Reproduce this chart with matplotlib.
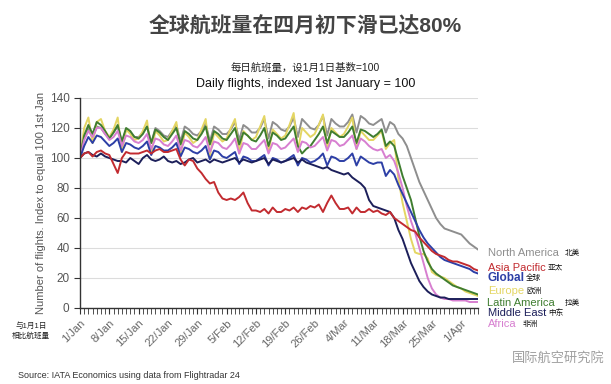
import numpy as np
import matplotlib
matplotlib.use("Agg")
import matplotlib.pyplot as plt
from matplotlib.ticker import MultipleLocator

plt.rcParams['font.family'] = ['Liberation Sans', 'Noto Sans CJK SC', 'DejaVu Sans']

# daily flights, index 1 Jan = 100 (1 Jan .. 5 Apr 2020, one row per week)
north_america = [
    100, 114, 120, 113, 121, 120, 116,
    113, 117, 121, 110, 119, 117, 114,
    114, 117, 121, 110, 120, 118, 115,
    114, 118, 122, 111, 121, 119, 116,
    115, 118, 123, 111, 121, 119, 116,
    116, 119, 124, 112, 122, 120, 117,
    117, 120, 126, 113, 124, 122, 119,
    118, 121, 127, 114, 126, 123, 120,
    119, 122, 128, 115, 126, 123, 121,
    121, 124, 129, 117, 128, 126, 123,
    122, 124, 126, 117, 124, 122, 116,
    113, 108, 100, 92, 84, 78, 72,
    66, 60, 56, 53, 52, 51, 50,
    49, 46, 43, 41, 39]
asia_pacific = [
    100, 103, 104, 101, 104, 105, 103,
    102, 96, 90, 100, 104, 103, 103,
    103, 104, 105, 103, 105, 106, 104,
    104, 105, 106, 99, 95, 99, 98,
    93, 90, 86, 83, 84, 77, 73,
    72, 73, 72, 74, 77, 70, 65,
    65, 64, 66, 63, 67, 64, 64,
    66, 65, 67, 64, 67, 66, 68,
    67, 69, 64, 70, 75, 70, 66,
    66, 67, 63, 67, 64, 64, 66,
    64, 65, 63, 62, 64, 60, 58,
    56, 54, 52, 51, 47, 44, 41,
    38, 36, 35, 34, 32, 31, 31,
    30, 29, 28, 26, 25]
global_ = [
    100, 108, 114, 110, 115, 114, 111,
    108, 110, 113, 104, 110, 109, 107,
    106, 108, 111, 102, 108, 107, 105,
    105, 107, 110, 101, 107, 106, 104,
    103, 105, 108, 99, 105, 104, 101,
    100, 102, 104, 96, 101, 100, 98,
    98, 100, 102, 95, 100, 99, 97,
    98, 100, 102, 95, 100, 99, 97,
    98, 100, 103, 95, 101, 100, 98,
    98, 100, 103, 95, 101, 99, 97,
    96, 97, 97, 88, 92, 89, 82,
    76, 70, 64, 58, 52, 47, 43,
    40, 37, 34, 32, 31, 30, 29,
    28, 27, 26, 24, 23]
europe = [
    100, 120, 127, 110, 124, 126, 118,
    114, 119, 127, 104, 119, 116, 112,
    113, 118, 125, 103, 118, 115, 111,
    112, 118, 124, 102, 117, 114, 110,
    112, 119, 126, 101, 117, 114, 111,
    113, 120, 126, 103, 118, 115, 112,
    114, 121, 128, 104, 119, 116, 113,
    115, 122, 130, 105, 120, 117, 114,
    116, 122, 129, 106, 120, 117, 114,
    116, 121, 127, 106, 118, 115, 112,
    112, 115, 118, 106, 110, 112, 86,
    70, 58, 46, 37, 36, 36, 33,
    24, 22, 21, 20, 18, 16, 14,
    13, 11, 10, 9, 8]
latin_america = [
    100, 115, 122, 116, 124, 122, 118,
    113, 117, 122, 111, 120, 118, 114,
    113, 116, 121, 110, 119, 117, 114,
    112, 116, 120, 109, 118, 116, 113,
    112, 116, 121, 109, 118, 116, 113,
    112, 116, 120, 109, 117, 115, 112,
    111, 115, 120, 108, 117, 115, 112,
    113, 117, 121, 108, 103, 106, 108,
    112, 116, 121, 110, 118, 116, 114,
    114, 117, 121, 110, 119, 118, 116,
    114, 116, 119, 108, 111, 108, 98,
    88, 80, 72, 60, 48, 38, 31,
    26, 23, 21, 19, 17, 15, 14,
    13, 12, 11, 10, 9]
middle_east = [
    100, 103, 104, 102, 101, 103, 101,
    100, 99, 98, 98, 97, 100, 98,
    96, 100, 102, 99, 98, 99, 101,
    98, 97, 98, 96, 97, 99, 100,
    97, 98, 99, 97, 99, 98, 97,
    98, 99, 100, 97, 99, 98, 97,
    98, 99, 100, 96, 99, 98, 97,
    98, 99, 100, 97, 99, 97, 96,
    95, 94, 93, 94, 92, 91, 90,
    89, 90, 87, 85, 83, 80, 72,
    68, 67, 66, 65, 64, 60, 52,
    46, 38, 30, 24, 18, 14, 11,
    9, 8, 7, 7, 6, 6, 6,
    6, 6, 6, 6, 6]
africa = [
    100, 112, 118, 114, 120, 120, 116,
    112, 114, 118, 108, 115, 114, 111,
    110, 112, 116, 106, 113, 112, 109,
    108, 111, 115, 105, 112, 111, 108,
    107, 110, 114, 104, 111, 110, 107,
    106, 109, 113, 103, 110, 109, 106,
    106, 109, 112, 103, 110, 109, 106,
    107, 110, 113, 104, 111, 110, 107,
    108, 111, 114, 105, 112, 111, 108,
    109, 112, 115, 106, 113, 111, 108,
    106, 105, 106, 100, 102, 98, 90,
    80, 68, 58, 50, 40, 30, 20,
    13, 9, 7, 6, 6, 5, 5,
    5, 5, 4, 4, 4]

tick_labels = ['1/Jan', '8/Jan', '15/Jan', '22/Jan', '29/Jan', '5/Feb', '12/Feb',
               '19/Feb', '26/Feb', '4/Mar', '11/Mar', '18/Mar', '25/Mar', '1/Apr']

series = [
    ('North America', '北美', north_america, '#8e8e8e'),
    ('Europe', '欧洲', europe, '#e4d663'),
    ('Latin America', '拉美', latin_america, '#3f7d30'),
    ('Africa', '非洲', africa, '#d77fd0'),
    ('Global', '全球', global_, '#2d3fa6'),
    ('Middle East', '中东', middle_east, '#1c1f5a'),
    ('Asia Pacific', '亚太', asia_pacific, '#c22b30'),
]

fig = plt.figure(figsize=(6.11, 3.84), dpi=100)
ax = fig.add_axes([80 / 611, 1 - 308 / 384, 398 / 611, 210 / 384])

days = np.arange(len(global_))
for name, cn, vals, col in series:
    ax.plot(days, vals, color=col, lw=1.4, solid_joinstyle='round')

ax.set_xlim(0, len(global_) - 1)
ax.set_ylim(0, 140)
ax.set_yticks(range(0, 141, 20))
ax.grid(axis='y', color='#dcdcdc', lw=0.8)
ax.set_axisbelow(True)
for s in ['top', 'right']:
    ax.spines[s].set_visible(False)
for s in ['left', 'bottom']:
    ax.spines[s].set_color('#333333')
    ax.spines[s].set_linewidth(1.0)

ax.set_xticks(np.arange(0, len(global_), 7))
ax.set_xticklabels(tick_labels, rotation=45, ha='right', rotation_mode='anchor')
ax.xaxis.set_minor_locator(MultipleLocator(1))
ax.tick_params(axis='x', which='both', length=4, color='#333333', labelsize=8,
               labelcolor='#666666', pad=3)
ax.tick_params(axis='y', length=4, color='#333333', labelsize=8.5, labelcolor='#555555')
ax.set_ylabel('Number of flights. Index to equal 100 1st Jan', fontsize=8,
              color='#555555', labelpad=3)

# titles
fig.text(0.5, 1 - 26 / 384, '全球航班量在四月初下滑已达80%', ha='center', va='center',
         fontsize=15, fontweight='bold', color='#444444')
fig.text(0.5, 1 - 68 / 384, '每日航班量，设1月1日基数=100', ha='center', va='center',
         fontsize=7.5, color='#222222')
fig.text(0.5, 1 - 84 / 384, 'Daily flights, indexed 1st January = 100', ha='center',
         va='center', fontsize=9, color='#111111')

# right-hand labels
label_pos = {
    'North America': (488, 253, 565),
    'Asia Pacific': (488, 268, 548),
    'Global': (488, 278, 526),
    'Europe': (488, 291, 526),
    'Latin America': (487, 303, 565),
    'Middle East': (488, 313, 548),
    'Africa': (488, 324, 523),
}
for name, cn, vals, col in series:
    x, y, xc = label_pos[name]
    bold = name == 'Global'
    fig.text(x / 611, 1 - y / 384, name, color=col, fontsize=8.5 if bold else 8,
             fontweight='bold' if bold else 'normal', va='center', ha='left')
    fig.text(xc / 611, 1 - y / 384, cn, color='#111111', fontsize=5.5,
             va='center', ha='left')

fig.text(31 / 611, 1 - 331 / 384, '与1月1日\n相比航班量', ha='center', va='center',
         fontsize=5.5, color='#222222', linespacing=1.3)
fig.text(18 / 611, 1 - 376 / 384, 'Source: IATA Economics using data from Flightradar 24',
         fontsize=6.5, color='#333333', va='center', ha='left')
fig.text(512 / 611, 1 - 358 / 384, '国际航空研究院', fontsize=9.5, color='#a0a0a0',
         va='center', ha='left')

fig.savefig('out.png', dpi=100, facecolor='white')
